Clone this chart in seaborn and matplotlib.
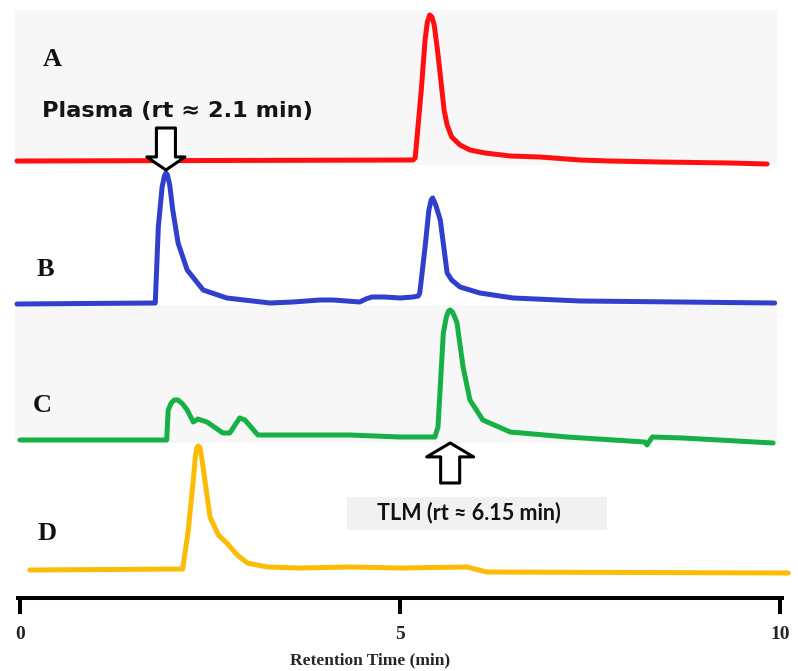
import numpy as np
import pandas as pd
import matplotlib
matplotlib.use("Agg")
import matplotlib.pyplot as plt
import seaborn as sns

# Chromatogram traces: retention time (min) and detector signal (arbitrary units)
a_time = [-0.04, 5.17, 5.20, 5.28, 5.33, 5.36, 5.39, 5.42, 5.45, 5.49, 5.53, 5.58,
          5.62, 5.68, 5.79, 5.92, 6.12, 6.45, 6.84, 7.37, 7.76, 8.42, 9.34, 9.83]
a_signal = [-1, 0, 2, 70, 120, 138, 145, 143, 135, 112, 85, 50,
            35, 23, 15, 10, 7, 4, 3, 0, -1, -2, -3, -4]

b_time = [-0.04, 1.75, 1.78, 1.82, 1.87, 1.90, 1.92, 1.94, 1.97, 2.01, 2.08, 2.20,
          2.41, 2.72, 3.29, 3.59, 3.95, 4.12, 4.47, 4.55, 4.63, 4.80, 5.00, 5.17,
          5.24, 5.26, 5.33, 5.38, 5.41, 5.43, 5.47, 5.53, 5.62, 5.68, 5.79, 6.05,
          6.49, 7.37, 8.68, 9.93]
b_signal = [-1, 0, 0, 76, 116, 127, 130, 128, 118, 93, 60, 33,
            13, 5, 0, 1, 3, 3, 1, 4, 6, 6, 5, 6,
            7, 10, 56, 93, 103, 105, 98, 83, 30, 23, 16, 10,
            5, 2, 1, 0]

c_time = [0.0, 1.93, 1.95, 1.99, 2.03, 2.08, 2.14, 2.20, 2.28, 2.34, 2.46, 2.67,
          2.76, 2.83, 2.89, 2.96, 3.05, 3.13, 4.34, 5.00, 5.46, 5.50, 5.57, 5.61,
          5.64, 5.66, 5.69, 5.72, 5.75, 5.83, 5.92, 6.09, 6.45, 7.20, 8.22, 8.25,
          8.32, 8.72, 9.91]
c_signal = [0, 0, 30, 37, 40, 40, 36, 30, 18, 21, 18, 7,
            7, 15, 22, 20, 12, 5, 5, 3, 3, 13, 107, 123,
            129, 130, 128, 123, 117, 73, 40, 20, 8, 3, -2, -5,
            3, 2, -3]

d_time = [0.13, 2.14, 2.21, 2.28, 2.31, 2.33, 2.35, 2.37, 2.39, 2.50, 2.61, 2.72,
          2.86, 2.99, 3.25, 3.68, 4.34, 5.00, 5.88, 6.14, 10.11]
d_signal = [-1, 0, 36, 89, 114, 122, 123, 121, 112, 52, 34, 26,
            14, 6, 2, 1, 2, 1, 2, -3, -4]

samples = ["A", "B", "C", "D"]
offsets = [438, 295, 158, 29]
colors = ["#ff1010", "#3040cc", "#17b045", "#fcbc05"]

plasma_label = "Plasma (rt \u2248 2.1 min)"
tlm_label = "TLM (rt \u2248 6.15 min)"
x_ticks = [0, 5, 10]
x_title = "Retention Time (min)"

traces = {"A": (a_time, a_signal), "B": (b_time, b_signal),
          "C": (c_time, c_signal), "D": (d_time, d_signal)}
frames = []
for name, off in zip(samples, offsets):
    t, s = traces[name]
    frames.append(pd.DataFrame({"time": t,
                                "signal": np.asarray(s, float) + off,
                                "sample": name}))
df = pd.concat(frames, ignore_index=True)

sns.set_style("white")
plt.rcParams["font.family"] = ["Liberation Serif", "DejaVu Serif"]

W, H = 798, 671
fig = plt.figure(figsize=(W / 100, H / 100), dpi=100)
ax = fig.add_axes([0, 73 / H, 1, 598 / H])
ax.set_xlim(-20 / 76, 778 / 76)
ax.set_ylim(0, 598)

# faint grey panels behind traces A and C
ax.axhspan(433, 588, xmin=15 / W, xmax=777 / W, color="#f7f7f7", zorder=0, lw=0)
ax.axhspan(155, 293, xmin=15 / W, xmax=777 / W, color="#f7f7f7", zorder=0, lw=0)

sns.lineplot(data=df, x="time", y="signal", hue="sample", units="sample",
             palette=dict(zip(samples, colors)), sort=False, estimator=None,
             legend=False, lw=3.6, solid_capstyle="round",
             solid_joinstyle="round", ax=ax, zorder=2)
ax.set_ylabel("")

# sample letters
letter_pos = {"A": (0.42, 539), "B": (0.33, 328), "C": (0.29, 193), "D": (0.36, 64)}
for name in samples:
    x, y = letter_pos[name]
    ax.text(x, y, name, fontsize=19, fontweight="bold", ha="center",
            va="center", color="#111111", family=["Liberation Serif", "DejaVu Serif"])

# plasma peak marker (first peak of trace B)
ib = int(np.argmax(b_signal))
bx, by = b_time[ib], b_signal[ib] + offsets[1]
ax.annotate("", xy=(bx, by + 3), xytext=(bx, by + 45),
            arrowprops=dict(arrowstyle="simple,head_length=0.94,head_width=2.74,tail_width=1.37",
                            fc="white", ec="black", lw=2.2, shrinkA=0, shrinkB=0,
                            mutation_scale=10),
            zorder=5)
ax.text(2.07, 487, plasma_label, fontsize=16.2, fontweight="bold", ha="center",
        va="center", color="#151515", family=["DejaVu Sans"])

# TLM peak marker (main peak of trace C)
ic = int(np.argmax(c_signal))
cx = c_time[ic]
ax.annotate("", xy=(cx, offsets[2] - 3), xytext=(cx, offsets[2] - 43),
            arrowprops=dict(arrowstyle="simple,head_length=1.0,head_width=3.38,tail_width=1.37",
                            fc="white", ec="black", lw=2.2, shrinkA=0, shrinkB=0,
                            mutation_scale=10),
            zorder=5)
ax.add_patch(plt.Rectangle((4.30, 68), 3.42, 33, color="#f1f1f1", lw=0, zorder=1))
ax.text(5.90, 85, tlm_label, fontsize=15.5, fontweight="bold", ha="center",
        va="center", color="#111111", family=["Lato", "DejaVu Sans"])

# retention time axis
for side in ["top", "left", "right"]:
    ax.spines[side].set_visible(False)
ax.spines["bottom"].set_linewidth(2.9)
ax.spines["bottom"].set_color("black")
ax.spines["bottom"].set_bounds(-0.03, 10.03)
ax.set_yticks([])
ax.set_xticks(x_ticks)
ax.set_xticklabels([str(v) for v in x_ticks])
ax.tick_params(axis="x", bottom=True, direction="out", length=11.5, width=2.9,
               color="black", pad=9, labelsize=14)
for lbl in ax.get_xticklabels():
    lbl.set_fontweight("bold")
ax.set_xlabel(x_title, fontsize=12.5, fontweight="bold")
ax.xaxis.set_label_coords(370 / W, -54 / 598)

fig.savefig("out.png", dpi=100, facecolor="white")
